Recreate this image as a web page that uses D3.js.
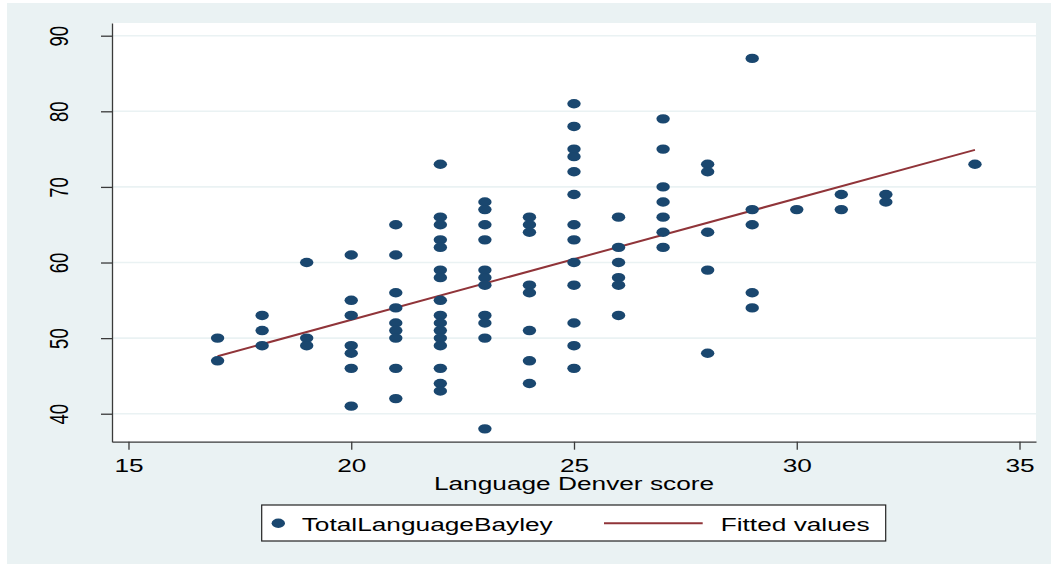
<!DOCTYPE html>
<meta charset="utf-8">
<script src="https://d3js.org/d3.v7.min.js"></script>
<style>
  body { margin: 0; background: #fff; }
  text { font-family: "Liberation Sans", Arial, sans-serif; fill: #000; }
</style>
<div id="my_dataviz"></div>
<script>

// data
var denverScores = [17, 18, 19, 20, 21, 22, 23, 24, 25, 26, 27, 28, 29, 30, 31, 32, 34];
var bayleyByScore = [
  [50, 47],
  [53, 51, 49],
  [60, 50, 49],
  [61, 55, 53, 49, 48, 46, 41],
  [65, 61, 56, 54, 52, 51, 50, 46, 42],
  [73, 66, 65, 63, 62, 59, 58, 55, 53, 52, 51, 50, 49, 46, 44, 43],
  [68, 67, 65, 63, 59, 58, 57, 53, 52, 50, 38],
  [66, 65, 64, 57, 56, 51, 47, 44],
  [81, 78, 75, 74, 72, 69, 65, 63, 60, 57, 52, 49, 46],
  [66, 62, 60, 58, 57, 53],
  [79, 75, 70, 68, 66, 64, 62],
  [73, 72, 64, 59, 48],
  [87, 67, 65, 56, 54],
  [67],
  [69, 67],
  [69, 68],
  [73]
];
var fitX = [17, 34];
var fitY = [47.6, 74.9];
var xTicks = [15, 20, 25, 30, 35];
var yTicks = [40, 50, 60, 70, 80, 90];
var xTitle = "Language Denver score";
var legendLabels = ["TotalLanguageBayley", "Fitted values"];

var points = [];
denverScores.forEach(function(s, i) {
  bayleyByScore[i].forEach(function(v) { points.push({x: s, y: v}); });
});

// text in the original is stretched sideways
var stretch = 1.42;
var navy = "#1a476f", maroon = "#903439", bg = "#eaf2f3";

var W = 1051, H = 565;
var plot = {left: 112, right: 1036, top: 23, bottom: 441.7};

var svg = d3.select("#my_dataviz")
  .append("svg")
    .attr("width", W)
    .attr("height", H);

// outer background
svg.append("rect")
  .attr("x", 7).attr("y", 3)
  .attr("width", W - 7).attr("height", 561)
  .attr("fill", bg);

// plot region
svg.append("rect")
  .attr("x", plot.left).attr("y", plot.top)
  .attr("width", plot.right - plot.left).attr("height", plot.bottom - plot.top)
  .attr("fill", "#fff");

var x = d3.scaleLinear()
  .domain([14.63, 35.37])
  .range([plot.left, plot.right]);

var y = d3.scaleLinear()
  .domain([36.3, 91.68])
  .range([plot.bottom, plot.top]);

// grid lines
svg.append("g")
  .selectAll("line")
  .data(yTicks)
  .join("line")
    .attr("x1", plot.left).attr("x2", plot.right)
    .attr("y1", function(d) { return y(d); })
    .attr("y2", function(d) { return y(d); })
    .attr("stroke", bg)
    .attr("stroke-width", 1.6);

// Y axis
var yAxis = svg.append("g")
  .attr("transform", "translate(" + plot.left + ",0)")
  .call(d3.axisLeft(y).tickValues(yTicks).tickSize(11).tickSizeOuter(0));
yAxis.selectAll("text")
  .attr("x", null).attr("dy", null)
  .attr("text-anchor", "middle")
  .attr("transform", "translate(-44,0) scale(" + stretch + ",1) rotate(-90)")
  .style("font-size", "18.5px");

// X axis
var xAxis = svg.append("g")
  .attr("transform", "translate(0," + plot.bottom + ")")
  .call(d3.axisBottom(x).tickValues(xTicks).tickSize(8).tickSizeOuter(0));
xAxis.selectAll("text")
  .attr("y", null).attr("dy", null)
  .attr("text-anchor", "middle")
  .attr("transform", "translate(0,30) scale(" + stretch + ",1)")
  .style("font-size", "18.5px");

svg.selectAll(".domain, .tick line")
  .attr("stroke", "#3a3a3a")
  .attr("stroke-width", 1.3);
svg.selectAll(".tick text").attr("fill", "#000");

// x axis title
svg.append("text")
  .attr("text-anchor", "middle")
  .attr("transform", "translate(" + (plot.left + plot.right) / 2 + ",490) scale(" + stretch + ",1)")
  .style("font-size", "18.5px")
  .text(xTitle);

// fitted line
svg.append("path")
  .datum(fitX.map(function(d, i) { return [d, fitY[i]]; }))
  .attr("fill", "none")
  .attr("stroke", maroon)
  .attr("stroke-width", 2)
  .attr("d", d3.line()
    .x(function(d) { return x(d[0]); })
    .y(function(d) { return y(d[1]); }));

// scatter points
svg.append("g")
  .selectAll("ellipse")
  .data(points)
  .join("ellipse")
    .attr("cx", function(d) { return x(d.x); })
    .attr("cy", function(d) { return y(d.y); })
    .attr("rx", 6.7)
    .attr("ry", 4.7)
    .attr("fill", navy);

// legend
var legend = svg.append("g");
legend.append("rect")
  .attr("x", 261.7).attr("y", 505)
  .attr("width", 624).attr("height", 36)
  .attr("fill", "#fff")
  .attr("stroke", "#222")
  .attr("stroke-width", 1.2);
legend.append("ellipse")
  .attr("cx", 278.3).attr("cy", 523.3)
  .attr("rx", 6.7).attr("ry", 4.7)
  .attr("fill", navy);
legend.append("text")
  .attr("transform", "translate(301.7,530.7) scale(" + stretch + ",1)")
  .style("font-size", "18.5px")
  .text(legendLabels[0]);
legend.append("line")
  .attr("x1", 604).attr("x2", 702.7)
  .attr("y1", 523.3).attr("y2", 523.3)
  .attr("stroke", maroon)
  .attr("stroke-width", 2);
legend.append("text")
  .attr("transform", "translate(720.7,530.7) scale(" + stretch + ",1)")
  .style("font-size", "18.5px")
  .text(legendLabels[1]);

</script>
